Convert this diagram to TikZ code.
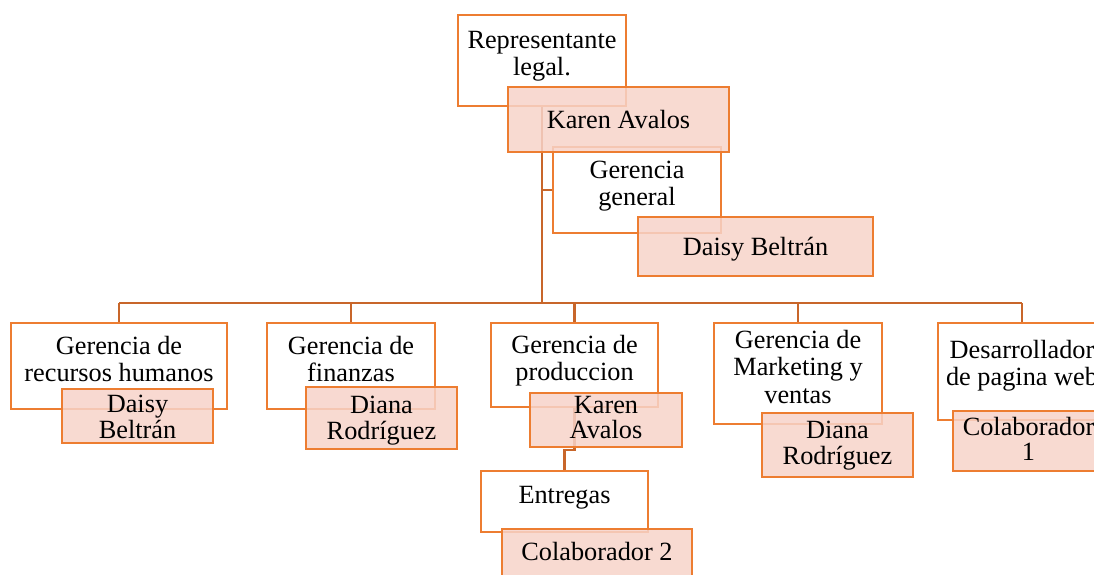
\documentclass[tikz,border=0pt]{standalone}
\usepackage{fontspec}
\setmainfont{Liberation Serif}
\usetikzlibrary{fit}
\definecolor{edge}{HTML}{ED7D31}
\definecolor{link}{HTML}{C8662A}
\definecolor{namefill}{HTML}{F7D3C9}
\pgfdeclarelayer{background}
\pgfsetlayers{background,main}
\newcommand\txtlines[1]{\begin{tabular}[t]{@{}c@{}}#1\end{tabular}}
\tikzset{
  wbox/.style={draw=edge, line width=2.8pt, fill=white, inner sep=0pt},
  pbox/.style={draw=edge, line width=2.8pt, fill=namefill, fill opacity=0.85, inner sep=0pt},
  role/.style={anchor=base, inner sep=0pt, font=\fontsize{26.3}{27.5}\selectfont},
  who/.style={anchor=base, inner sep=0pt, font=\fontsize{26.3}{25.7}\selectfont},
  wire/.style={draw=link, line width=2.5pt}
}
\begin{document}
\begin{tikzpicture}[x=1pt, y=-1pt]
\useasboundingbox (0,0) rectangle (1094,574);

% position boxes
\node[wbox, fit={(458,15) (626,106)}] (rl) {};
\node[role] (rl-t) at (542,48) {\txtlines{Representante\\legal.}};
\node[wbox, fit={(553,147) (721,233)}] (gg) {};
\node[role] (gg-t) at (637,178) {\txtlines{Gerencia\\general}};
\node[wbox, fit={(11,323) (227,409)}] (rh) {};
\node[role] (rh-t) at (119,354) {\txtlines{Gerencia de\\recursos humanos}};
\node[wbox, fit={(267,323) (435,409)}] (fi) {};
\node[role] (fi-t) at (351,354) {\txtlines{Gerencia de\\finanzas}};
\node[wbox, fit={(491,323) (658,407)}] (pr) {};
\node[role] (pr-t) at (574.5,353) {\txtlines{Gerencia de\\produccion}};
\node[wbox, fit={(714,323) (882,424)}] (mk) {};
\node[role] (mk-t) at (798,348) {\txtlines{Gerencia de\\Marketing y\\ventas}};
\node[wbox, fit={(938,323) (1106,420)}] (dw) {};
\node[role] (dw-t) at (1022,358) {\txtlines{Desarrollador\\de pagina web}};
\node[wbox, fit={(481,471) (648,532)}] (en) {};
\node[role] (en-t) at (564.5,503) {Entregas};

% name boxes
\node[pbox, fit={(508,87) (729,152)}] (ka1) {};
\node[who] (ka1-t) at (618.5,128) {Karen Avalos};
\node[pbox, fit={(638,217) (873,276)}] (db1) {};
\node[who] (db1-t) at (755.5,255) {Daisy Beltrán};
\node[pbox, fit={(62,389) (213,443)}] (db2) {};
\node[who] (db2-t) at (137.5,412) {\txtlines{Daisy\\Beltrán}};
\node[pbox, fit={(306,387) (457,449)}] (dr1) {};
\node[who] (dr1-t) at (381.5,413) {\txtlines{Diana\\Rodríguez}};
\node[pbox, fit={(530,393) (682,447)}] (ka2) {};
\node[who] (ka2-t) at (606,413) {\txtlines{Karen\\Avalos}};
\node[pbox, fit={(762,413) (913,477)}] (dr2) {};
\node[who] (dr2-t) at (837.5,438) {\txtlines{Diana\\Rodríguez}};
\node[pbox, fit={(953,411) (1104,471)}] (c1) {};
\node[who] (c1-t) at (1028.5,435) {\txtlines{Colaborador\\1}};
\node[pbox, fit={(502,529) (692,590)}] (c2) {};
\node[who] (c2-t) at (597,560) {Colaborador 2};

% connectors
\coordinate (bus) at (542,303);
\coordinate (jp) at (574.5,450);
\begin{pgfonlayer}{background}
  \draw[wire] (rl.south) -- (bus);
  \draw[wire] (gg.west) -- (gg.west -| bus);
  \draw[wire] (rh.north |- bus) -- (dw.north |- bus);
  \draw[wire] (rh.north) -- (rh.north |- bus);
  \draw[wire] (fi.north) -- (fi.north |- bus);
  \draw[wire] (pr.north) -- (pr.north |- bus);
  \draw[wire] (mk.north) -- (mk.north |- bus);
  \draw[wire] (dw.north) -- (dw.north |- bus);
  \draw[wire] (pr.south) -- (jp) -| (en.north);
\end{pgfonlayer}
\end{tikzpicture}
\end{document}
